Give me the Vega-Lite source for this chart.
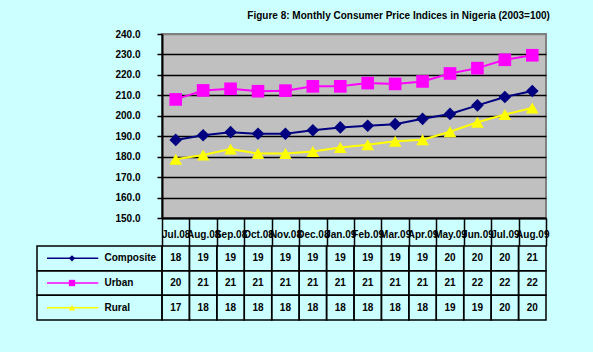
{
  "$schema": "https://vega.github.io/schema/vega-lite/v6.json",
  "background": "#ccffff",
  "padding": {"left": 36, "top": 11, "right": 47, "bottom": 32},
  "title": {"text": "Figure 8: Monthly Consumer Price Indices in Nigeria (2003=100)", "anchor": "end", "font": "Liberation Sans", "fontSize": 10, "fontWeight": "bold", "color": "black", "offset": 7},
  "datasets": {
    "cpi": [
      {"month": "Jul.08", "series": "Composite", "index": 188.2, "shown": 18},
      {"month": "Aug.08", "series": "Composite", "index": 190.5, "shown": 19},
      {"month": "Sep.08", "series": "Composite", "index": 192.0, "shown": 19},
      {"month": "Oct.08", "series": "Composite", "index": 191.2, "shown": 19},
      {"month": "Nov.08", "series": "Composite", "index": 191.2, "shown": 19},
      {"month": "Dec.08", "series": "Composite", "index": 192.9, "shown": 19},
      {"month": "Jan.09", "series": "Composite", "index": 194.3, "shown": 19},
      {"month": "Feb.09", "series": "Composite", "index": 195.1, "shown": 19},
      {"month": "Mar.09", "series": "Composite", "index": 195.9, "shown": 19},
      {"month": "Apr.09", "series": "Composite", "index": 198.5, "shown": 19},
      {"month": "May.09", "series": "Composite", "index": 200.9, "shown": 20},
      {"month": "Jun.09", "series": "Composite", "index": 205.1, "shown": 20},
      {"month": "Jul.09", "series": "Composite", "index": 209.2, "shown": 20},
      {"month": "Aug.09", "series": "Composite", "index": 212.1, "shown": 21},
      {"month": "Jul.08", "series": "Urban", "index": 208.0, "shown": 20},
      {"month": "Aug.08", "series": "Urban", "index": 212.4, "shown": 21},
      {"month": "Sep.08", "series": "Urban", "index": 213.2, "shown": 21},
      {"month": "Oct.08", "series": "Urban", "index": 212.0, "shown": 21},
      {"month": "Nov.08", "series": "Urban", "index": 212.3, "shown": 21},
      {"month": "Dec.08", "series": "Urban", "index": 214.4, "shown": 21},
      {"month": "Jan.09", "series": "Urban", "index": 214.4, "shown": 21},
      {"month": "Feb.09", "series": "Urban", "index": 216.0, "shown": 21},
      {"month": "Mar.09", "series": "Urban", "index": 215.6, "shown": 21},
      {"month": "Apr.09", "series": "Urban", "index": 216.8, "shown": 21},
      {"month": "May.09", "series": "Urban", "index": 220.7, "shown": 21},
      {"month": "Jun.09", "series": "Urban", "index": 223.3, "shown": 22},
      {"month": "Jul.09", "series": "Urban", "index": 227.4, "shown": 22},
      {"month": "Aug.09", "series": "Urban", "index": 229.6, "shown": 22},
      {"month": "Jul.08", "series": "Rural", "index": 178.7, "shown": 17},
      {"month": "Aug.08", "series": "Rural", "index": 180.8, "shown": 18},
      {"month": "Sep.08", "series": "Rural", "index": 183.7, "shown": 18},
      {"month": "Oct.08", "series": "Rural", "index": 181.5, "shown": 18},
      {"month": "Nov.08", "series": "Rural", "index": 181.5, "shown": 18},
      {"month": "Dec.08", "series": "Rural", "index": 182.5, "shown": 18},
      {"month": "Jan.09", "series": "Rural", "index": 184.5, "shown": 18},
      {"month": "Feb.09", "series": "Rural", "index": 185.8, "shown": 18},
      {"month": "Mar.09", "series": "Rural", "index": 187.5, "shown": 18},
      {"month": "Apr.09", "series": "Rural", "index": 188.3, "shown": 18},
      {"month": "May.09", "series": "Rural", "index": 192.2, "shown": 19},
      {"month": "Jun.09", "series": "Rural", "index": 196.8, "shown": 19},
      {"month": "Jul.09", "series": "Rural", "index": 200.6, "shown": 20},
      {"month": "Aug.09", "series": "Rural", "index": 203.8, "shown": 20}
    ]
  },
  "data": {"name": "cpi"},
  "columns": 2,
  "spacing": {"row": 28, "column": 0},
  "bounds": "flush",
  "concat": [
    {
      "width": 125,
      "height": 184,
      "data": {"values": [{"t": ""}]},
      "mark": {"type": "text", "text": ""},
      "encoding": {}
    },
    {
      "width": 384,
      "height": 184,
      "view": {"fill": "#c0c0c0", "stroke": "#808080", "strokeWidth": 2},
      "encoding": {
        "x": {
          "field": "month", "type": "ordinal", "sort": null, "bandPosition": 0.5,
          "scale": {"type": "band", "paddingInner": 0, "paddingOuter": 0, "domain": ["Jul.08", "Aug.08", "Sep.08", "Oct.08", "Nov.08", "Dec.08", "Jan.09", "Feb.09", "Mar.09", "Apr.09", "May.09", "Jun.09", "Jul.09", "Aug.09"]},
          "axis": {"title": null, "grid": false, "tickBand": "extent", "tickSize": 28, "tickColor": "black", "tickWidth": 1.5, "domainColor": "black", "domainWidth": 2, "labelAngle": 0, "labelFontSize": 10, "labelFontWeight": "bold", "labelColor": "black", "labelPadding": -17, "labelOverlap": false, "labelBound": false, "labelFlush": false}
        },
        "y": {
          "field": "index", "type": "quantitative",
          "scale": {"domain": [150, 240], "nice": false, "zero": false},
          "axis": {"title": null, "values": [150, 160, 170, 180, 190, 200, 210, 220, 230, 240], "format": ".1f", "grid": true, "gridColor": {"condition": {"test": "datum.value >= 240", "value": "#808080"}, "value": "black"}, "gridWidth": 1.5, "domainColor": "black", "domainWidth": 2, "tickColor": "black", "tickSize": 5, "tickWidth": 1.5, "labelPadding": 17, "labelFontSize": 10, "labelFontWeight": "bold", "labelColor": "black"}
        },
        "color": {"field": "series", "type": "nominal", "scale": {"domain": ["Composite", "Urban", "Rural"], "range": ["#000080", "#ff00ff", "#ffff00"]}, "legend": null}
      },
      "layer": [
        {"mark": {"type": "line", "strokeWidth": 2}},
        {"mark": {"type": "point", "filled": true, "opacity": 1, "size": 160},
         "encoding": {"shape": {"field": "series", "type": "nominal", "scale": {"domain": ["Composite", "Urban", "Rural"], "range": ["diamond", "square", "triangle-up"]}, "legend": null}}}
      ]
    },
    {
      "width": 125,
      "height": 74,
      "transform": [{"filter": "datum.month === 'Jul.08'"}],
      "layer": [
        {"mark": {"type": "rect", "fill": "transparent", "stroke": "black", "strokeWidth": 1.5},
         "encoding": {"y": {"field": "series", "type": "nominal", "scale": {"domain": ["Composite", "Urban", "Rural"], "paddingInner": 0, "paddingOuter": 0}, "axis": null}}},
        {"mark": {"type": "rule", "strokeWidth": 1.5},
         "encoding": {
           "y": {"field": "series", "type": "nominal", "bandPosition": 0.5},
           "x": {"datum": 0.08, "type": "quantitative", "scale": {"domain": [0, 1]}, "axis": null},
           "x2": {"datum": 0.49},
           "color": {"field": "series", "type": "nominal", "legend": null}}},
        {"mark": {"type": "point", "filled": true, "opacity": 1, "size": 40},
         "encoding": {
           "y": {"field": "series", "type": "nominal", "bandPosition": 0.5},
           "x": {"datum": 0.28, "type": "quantitative"},
           "color": {"field": "series", "type": "nominal", "legend": null},
           "shape": {"field": "series", "type": "nominal", "legend": null}}},
        {"mark": {"type": "text", "align": "left", "fontSize": 10, "fontWeight": "bold", "color": "black"},
         "encoding": {
           "y": {"field": "series", "type": "nominal", "bandPosition": 0.5},
           "x": {"datum": 0.54, "type": "quantitative"},
           "text": {"field": "series"}}}
      ]
    },
    {
      "width": 384,
      "height": 74,
      "encoding": {
        "x": {"field": "month", "type": "ordinal", "sort": null, "scale": {"domain": ["Jul.08", "Aug.08", "Sep.08", "Oct.08", "Nov.08", "Dec.08", "Jan.09", "Feb.09", "Mar.09", "Apr.09", "May.09", "Jun.09", "Jul.09", "Aug.09"], "paddingInner": 0, "paddingOuter": 0}, "axis": null},
        "y": {"field": "series", "type": "nominal", "scale": {"domain": ["Composite", "Urban", "Rural"], "paddingInner": 0, "paddingOuter": 0}, "axis": null}
      },
      "layer": [
        {"mark": {"type": "rect", "fill": "transparent", "stroke": "black", "strokeWidth": 1.5}},
        {"mark": {"type": "text", "fontSize": 10, "fontWeight": "bold", "color": "black"}, "encoding": {"text": {"field": "shown"}}}
      ]
    }
  ],
  "config": {
    "font": "Liberation Sans",
    "view": {"stroke": null},
    "axis": {"labelFont": "Liberation Sans"}
  }
}
